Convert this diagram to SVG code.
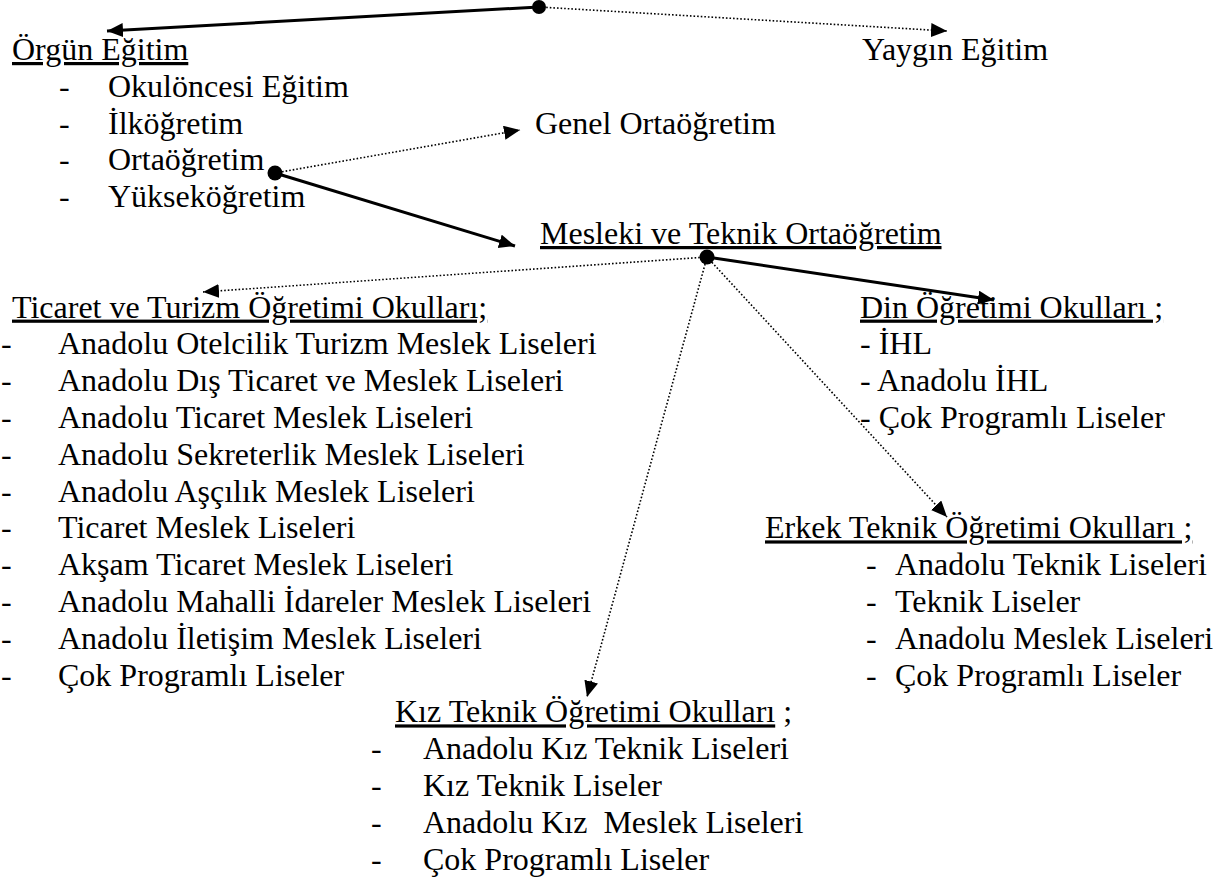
<svg xmlns="http://www.w3.org/2000/svg" width="1224" height="881" viewBox="0 0 1224 881">
<style>
text{font-family:"Liberation Serif","Times New Roman",serif;font-size:32px;fill:#000;white-space:pre}
.u{text-decoration:underline}
.solid{stroke:#000;stroke-width:3;fill:none}
.dot{stroke:#000;stroke-width:1.6;stroke-dasharray:1.6 2;fill:none}
</style>
<defs>
<marker id="ah" markerUnits="userSpaceOnUse" markerWidth="18" markerHeight="16" refX="16" refY="7" orient="auto">
<path d="M0,0 L16,7 L0,14 z" fill="#000"/>
</marker>
</defs>
<rect width="1224" height="881" fill="#fff"/>
<g id="connectors">
<line class="solid" x1="539" y1="7" x2="107" y2="31" marker-end="url(#ah)"/>
<line class="dot" x1="539" y1="7" x2="947" y2="31" marker-end="url(#ah)"/>
<line class="dot" x1="275" y1="173" x2="520" y2="130" marker-end="url(#ah)"/>
<line class="solid" x1="275" y1="173" x2="515" y2="246" marker-end="url(#ah)"/>
<line class="dot" x1="707" y1="257" x2="203" y2="292" marker-end="url(#ah)"/>
<line class="solid" x1="707" y1="257" x2="994" y2="300" marker-end="url(#ah)"/>
<line class="dot" x1="707" y1="257" x2="947" y2="517" marker-end="url(#ah)"/>
<line class="dot" x1="707" y1="257" x2="587" y2="697" marker-end="url(#ah)"/>
<circle cx="539" cy="7" r="7"/>
<circle cx="275" cy="173" r="7.5"/>
<circle cx="707" cy="257" r="7.5"/>
</g>
<g id="orgun">
<text x="12" y="60" class="u">Örgün Eğitim</text>
<text x="59" y="96.8">-</text><text x="108" y="96.8">Okulöncesi Eğitim</text>
<text x="59" y="133.6">-</text><text x="108" y="133.6">İlköğretim</text>
<text x="59" y="170.4">-</text><text x="108" y="170.4">Ortaöğretim</text>
<text x="59" y="207.2">-</text><text x="108" y="207.2">Yükseköğretim</text>
</g>
<g id="yaygin"><text x="862" y="60">Yaygın Eğitim</text></g>
<g id="genel"><text x="535" y="133.6">Genel Ortaöğretim</text></g>
<g id="mesleki"><text x="540" y="244" class="u">Mesleki ve Teknik Ortaöğretim</text></g>
<g id="ticaret">
<text x="12" y="317.6" class="u">Ticaret ve Turizm Öğretimi Okulları;</text>
<text x="1" y="354.4">-</text><text x="58" y="354.4">Anadolu Otelcilik Turizm Meslek Liseleri</text>
<text x="1" y="391.2">-</text><text x="58" y="391.2">Anadolu Dış Ticaret ve Meslek Liseleri</text>
<text x="1" y="428">-</text><text x="58" y="428">Anadolu Ticaret Meslek Liseleri</text>
<text x="1" y="464.8">-</text><text x="58" y="464.8">Anadolu Sekreterlik Meslek Liseleri</text>
<text x="1" y="501.6">-</text><text x="58" y="501.6">Anadolu Aşçılık Meslek Liseleri</text>
<text x="1" y="538.4">-</text><text x="58" y="538.4">Ticaret Meslek Liseleri</text>
<text x="1" y="575.2">-</text><text x="58" y="575.2">Akşam Ticaret Meslek Liseleri</text>
<text x="1" y="612">-</text><text x="58" y="612">Anadolu Mahalli İdareler Meslek Liseleri</text>
<text x="1" y="648.8">-</text><text x="58" y="648.8">Anadolu İletişim Meslek Liseleri</text>
<text x="1" y="685.6">-</text><text x="58" y="685.6">Çok Programlı Liseler</text>
</g>
<g id="din">
<text x="860" y="317.6" class="u">Din Öğretimi Okulları ;</text>
<text x="860" y="354.4">- İHL</text>
<text x="860" y="391.2">- Anadolu İHL</text>
<text x="860" y="428">- Çok Programlı Liseler</text>
</g>
<g id="erkek">
<text x="765" y="538.4" class="u">Erkek Teknik Öğretimi Okulları ;</text>
<text x="866" y="575.2">-</text><text x="895" y="575.2">Anadolu Teknik Liseleri</text>
<text x="866" y="612">-</text><text x="895" y="612">Teknik Liseler</text>
<text x="866" y="648.8">-</text><text x="895" y="648.8">Anadolu Meslek Liseleri</text>
<text x="866" y="685.6">-</text><text x="895" y="685.6">Çok Programlı Liseler</text>
</g>
<g id="kiz">
<text x="395" y="722.4"><tspan class="u">Kız Teknik Öğretimi Okulları</tspan> ;</text>
<text x="371" y="759.2">-</text><text x="423" y="759.2">Anadolu Kız Teknik Liseleri</text>
<text x="371" y="796">-</text><text x="423" y="796">Kız Teknik Liseler</text>
<text x="371" y="832.8">-</text><text x="423" y="832.8">Anadolu Kız  Meslek Liseleri</text>
<text x="371" y="869.6">-</text><text x="423" y="869.6">Çok Programlı Liseler</text>
</g>
</svg>
